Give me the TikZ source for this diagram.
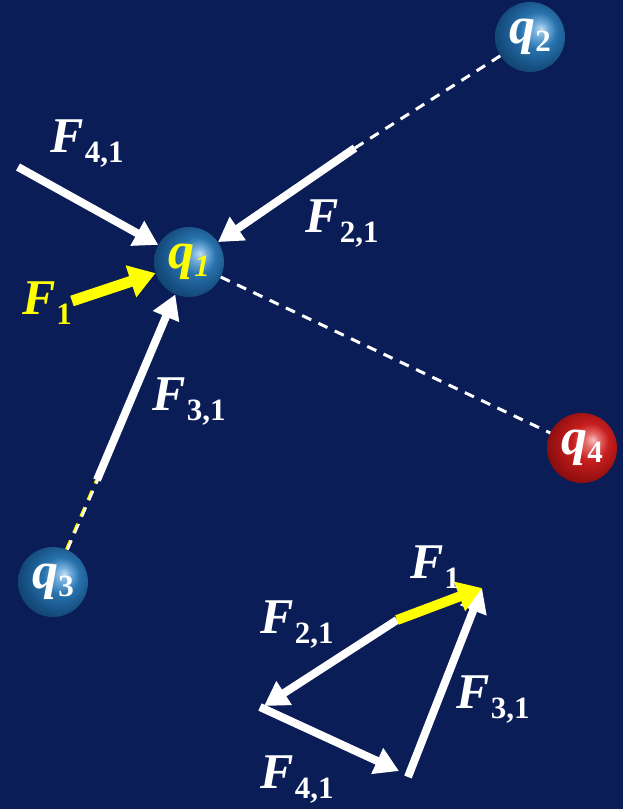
\documentclass[tikz,border=0pt]{standalone}
\usepackage{fontspec}
\setmainfont{Liberation Serif}
\usetikzlibrary{arrows.meta}
\definecolor{bg}{RGB}{10,29,86}
\definecolor{fyel}{RGB}{255,255,0}
\pgfdeclareradialshading{bluesph}{\pgfpoint{8bp}{6bp}}{rgb(0bp)=(0.75,0.87,0.95); rgb(5bp)=(0.45,0.68,0.86); rgb(13bp)=(0.16,0.45,0.68); rgb(24bp)=(0.09,0.32,0.52); rgb(34bp)=(0.05,0.22,0.38); rgb(50bp)=(0.05,0.22,0.38)}
\pgfdeclareradialshading{redsph}{\pgfpoint{8bp}{6bp}}{rgb(0bp)=(0.97,0.75,0.75); rgb(5bp)=(0.90,0.42,0.42); rgb(13bp)=(0.78,0.12,0.12); rgb(24bp)=(0.62,0.07,0.07); rgb(34bp)=(0.45,0.04,0.04); rgb(50bp)=(0.45,0.04,0.04)}
\newcommand\forcelab[1]{\fontsize{50}{50}\selectfont\bfseries\itshape F\kern1pt\raisebox{-10pt}{\fontsize{31}{31}\selectfont\upshape #1}}
\newcommand\chargelab[1]{\fontsize{52}{52}\selectfont\bfseries\itshape q\raisebox{-8pt}{\fontsize{31}{31}\selectfont\upshape #1}}
\tikzset{
  sph/.style={circle, minimum size=70pt, inner sep=0pt, shading=#1, text=white},
  frc/.style={draw=white, line width=8pt, -{Triangle[length=24pt,width=27pt]}},
  yfrc/.style={draw=fyel, line width=11pt, -{Triangle[length=26pt,width=32pt]}},
  dashln/.style={draw=white, line width=3pt, dash pattern=on 10pt off 8pt},
  lab/.style={inner sep=0pt, text=white},
}
\begin{document}
\begin{tikzpicture}[x=1pt,y=-1pt]
\fill[bg] (0,0) rectangle (623,809);
\useasboundingbox (0,0) rectangle (623,809);
% charges
\node[sph=bluesph] (q1) at (189,262) {\color{fyel}\fontsize{52}{52}\selectfont\bfseries\itshape q\raisebox{-8pt}{\fontsize{31}{31}\selectfont 1}};
\node[sph=bluesph] (q2) at (530,37) {\chargelab{2}};
\node[sph=bluesph] (q3) at (53,582) {\chargelab{3}};
\node[sph=redsph] (q4) at (582,448) {\chargelab{4}};
% free ends
\coordinate (s41) at (18,167);
\coordinate (s21) at (355,148);
\coordinate (s1) at (72,301);
\coordinate (s31) at (97,480);
% dashed lines
\draw[dashln] (s21) -- (q2);
\draw[dashln] (q1) -- (q4);
\draw[draw=fyel, line width=3.5pt, dash pattern=on 10pt off 8pt] (q3.67) -- (s31);
\draw[draw=white, line width=2.2pt, dash pattern=on 10pt off 8pt] ([xshift=0.9pt]q3.67) -- ([xshift=0.9pt]s31);
% forces on q1
\draw[frc] (s41) -- (q1);
\draw[frc] (s21) -- (q1);
\draw[frc] (s31) -- (q1);
\draw[yfrc] (s1) -- (q1);
% labels
\node[lab] (l41) at (87,144) {\forcelab{4,1}};
\node[lab] (l21) at (342,224) {\forcelab{2,1}};
\node[lab, text=fyel] (l1) at (47,303) {\forcelab{1}};
\node[lab] (l31) at (189,402) {\forcelab{3,1}};
% vector sum triangle
\coordinate (ta) at (397,620);
\coordinate (tb) at (482,588);
\coordinate (tc) at (264,706);
\coordinate (tc2) at (260,707);
\coordinate (td) at (399,771);
\coordinate (te) at (408,777);
\draw[frc] (ta) -- (tc);
\draw[frc] (tc2) -- (td);
\draw[frc] (te) -- (tb);
\draw[draw=fyel, line width=10pt, -{Triangle[length=24pt,width=30pt]}] (ta) -- (tb);
\node[lab] (m1) at (435,567) {\forcelab{1}};
\node[lab] (m21) at (297,625) {\forcelab{2,1}};
\node[lab] (m31) at (493,700) {\forcelab{3,1}};
\node[lab] (m41) at (297,780) {\forcelab{4,1}};
\end{tikzpicture}
\end{document}
